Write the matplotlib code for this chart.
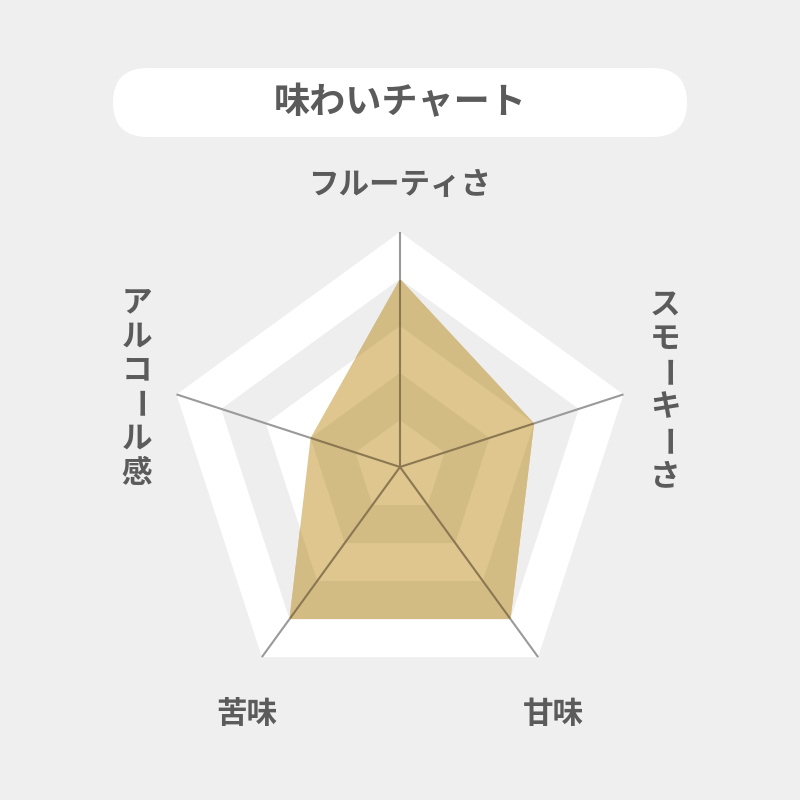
import numpy as np
import matplotlib
matplotlib.use("Agg")
import matplotlib.pyplot as plt
from matplotlib.patches import Polygon, FancyBboxPatch, PathPatch
from matplotlib.path import Path

plt.rcParams['font.family'] = ['Noto Sans CJK JP', 'DejaVu Sans']

title = "味わいチャート"
categories = ["フルーティさ", "スモーキーさ", "甘味", "苦味", "アルコール感"]
values = [4, 3, 4, 4, 2]
max_level = 5

BG = "#efefef"
BAND_GRAY = "#eeeeee"
FILL_LIGHT = "#dfc68e"
FILL_DARK = "#d3bb84"
SPOKE = "#9a9a9a"
SPOKE_IN = "#8b7852"
TEXT = "#5b5b5b"

fig = plt.figure(figsize=(8, 8), dpi=100)
fig.patch.set_facecolor(BG)
ax = fig.add_axes([0, 0, 1, 1])
ax.set_xlim(0, 800)
ax.set_ylim(800, 0)
ax.set_aspect('equal')
ax.axis('off')

cx, cy, R = 400.0, 467.0, 235.0
n = len(categories)
theta = np.arange(n) * 2 * np.pi / n


def pt(r, i):
    return cx + r * np.sin(theta[i]), cy - r * np.cos(theta[i])


def ring(level):
    r = R * level / max_level
    return [pt(r, i) for i in range(n)]


def annulus_path(l_out, l_in):
    outer = ring(l_out)
    verts = outer + [outer[0]]
    codes = [Path.MOVETO] + [Path.LINETO] * (n - 1) + [Path.CLOSEPOLY]
    if l_in > 0:
        inner = ring(l_in)[::-1]
        verts += inner + [inner[0]]
        codes += [Path.MOVETO] + [Path.LINETO] * (n - 1) + [Path.CLOSEPOLY]
    return Path(verts, codes)


# title box
box = FancyBboxPatch((113, 68), 574, 69,
                     boxstyle="round,pad=0,rounding_size=34.5",
                     fc="white", ec="none")
ax.add_patch(box)
ax.text(400, 103, title, ha='center', va='center', fontsize=26,
        fontweight='bold', color=TEXT)

# grid bands
for lvl in range(max_level, 0, -1):
    color = "white" if lvl % 2 == 1 else BAND_GRAY
    ax.add_patch(Polygon(ring(lvl), closed=True, fc=color, ec='none', zorder=1))

# spokes
for i in range(n):
    x, y = pt(R, i)
    ax.plot([cx, x], [cy, y], color=SPOKE, lw=1.5, zorder=2, solid_capstyle='butt')

# data polygon
data_pts = [pt(R * v / max_level, i) for i, v in enumerate(values)]
poly = Polygon(data_pts, closed=True, fc=FILL_LIGHT, ec='none', zorder=3)
ax.add_patch(poly)
for lvl in (2, 4):
    band = PathPatch(annulus_path(lvl, lvl - 1), fc=FILL_DARK, ec='none', zorder=4)
    ax.add_patch(band)
    band.set_clip_path(poly)
for i in range(n):
    x, y = pt(R, i)
    ln, = ax.plot([cx, x], [cy, y], color=SPOKE_IN, lw=1.5, zorder=5, solid_capstyle='butt')
    ln.set_clip_path(poly)

# labels
fs = 22
ax.text(400, 185, categories[0], ha='center', va='center', fontsize=fs,
        fontweight='bold', color=TEXT)
ax.text(553, 714, categories[2], ha='center', va='center', fontsize=fs,
        fontweight='bold', color=TEXT)
ax.text(247, 714, categories[3], ha='center', va='center', fontsize=fs,
        fontweight='bold', color=TEXT)


def vertical(text, x, y0, step):
    for k, ch in enumerate(text):
        y = y0 + k * step
        if ch == "ー":
            ax.text(x, y, ch, ha='center', va='center', fontsize=fs, fontweight='bold',
                    color=TEXT, rotation=-90, rotation_mode='anchor')
        else:
            ax.text(x, y, ch, ha='center', va='center', fontsize=fs, fontweight='bold',
                    color=TEXT)


vertical(categories[1], 665, 305, 34.2)
vertical(categories[4], 137, 302, 34.2)

fig.savefig("out.png", dpi=100, facecolor=BG)
